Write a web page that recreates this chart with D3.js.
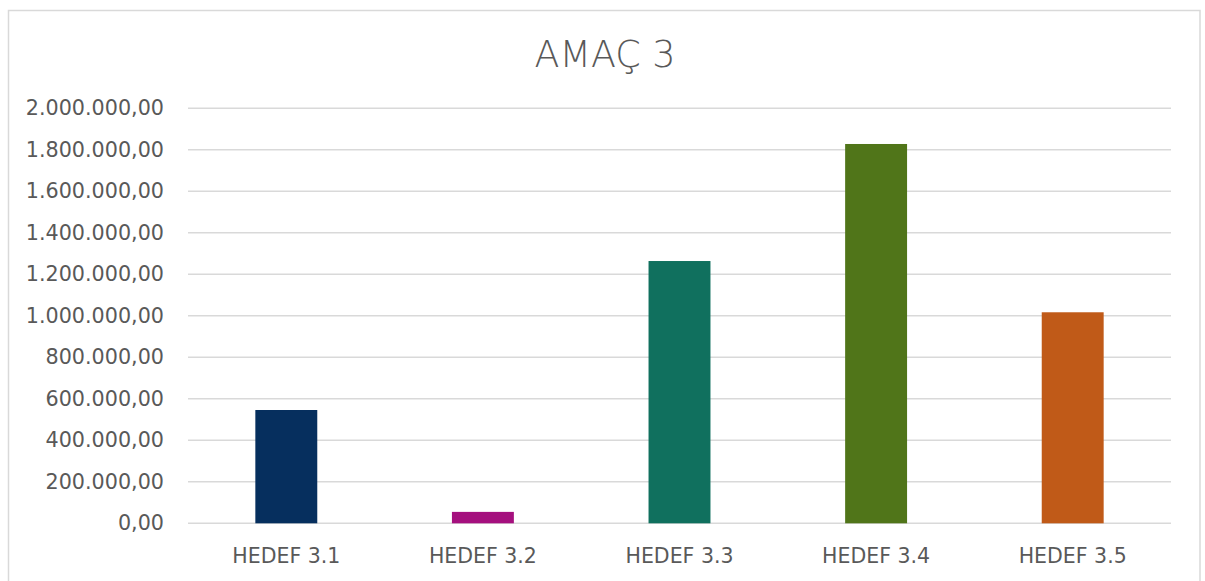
<!DOCTYPE html>
<html>
<head>
<meta charset="utf-8">
<script src="https://cdn.jsdelivr.net/npm/d3@7"></script>
<style>
  html, body { margin: 0; padding: 0; background: #ffffff; }
  svg { display: block; }
  text { font-family: "DejaVu Sans", sans-serif; fill: #595959; }
</style>
</head>
<body>
<svg id="chart" width="1205" height="581"></svg>
<script>
// ---- data ----
const title = "AMAÇ 3";
const categories = ["HEDEF 3.1", "HEDEF 3.2", "HEDEF 3.3", "HEDEF 3.4", "HEDEF 3.5"];
const values = [546000, 55000, 1264000, 1828000, 1017000];
const colors = ["#062F5E", "#A5107E", "#10705E", "#507519", "#C05A18"];
const yTicks = [0, 200000, 400000, 600000, 800000, 1000000, 1200000, 1400000, 1600000, 1800000, 2000000];

// ---- layout ----
const plot = { left: 188, right: 1171, top: 108.3, bottom: 523.3 };

const svg = d3.select("#chart");

// chart border
svg.append("rect")
  .attr("x", 8.5).attr("y", 10.5)
  .attr("width", 1191.5).attr("height", 600)
  .attr("fill", "none")
  .attr("stroke", "#d9d9d9")
  .attr("stroke-width", 1.5);

// title
svg.append("text")
  .attr("x", 605).attr("y", 67)
  .attr("text-anchor", "middle")
  .style("font-size", "36.5px")
  .style("font-weight", "300")
  .text(title);

const locale = d3.formatLocale({ decimal: ",", thousands: ".", grouping: [3], currency: ["", ""] });
const fmt = locale.format(",.2f");

const y = d3.scaleLinear().domain([0, 2000000]).range([plot.bottom, plot.top]);
const x = d3.scaleBand().domain(categories)
  .range([plot.left, plot.right])
  .paddingInner(0.685).paddingOuter(0.3425);

// gridlines
svg.append("g").selectAll("line")
  .data(yTicks)
  .join("line")
  .attr("x1", plot.left).attr("x2", plot.right)
  .attr("y1", d => y(d)).attr("y2", d => y(d))
  .attr("stroke", "#d9d9d9")
  .attr("stroke-width", 1.5);

// y axis labels
const yAxis = d3.axisLeft(y).tickValues(yTicks).tickFormat(fmt).tickSize(0).tickPadding(24);
const gy = svg.append("g").attr("transform", `translate(${plot.left},0)`).call(yAxis);
gy.select(".domain").remove();
gy.selectAll("text")
  .style("font-size", "20.7px")
  .style("font-family", "DejaVu Sans, sans-serif")
  .attr("fill", "#595959");

// bars
svg.append("g").selectAll("rect")
  .data(categories.map((c, i) => ({ c, v: values[i], col: colors[i] })))
  .join("rect")
  .attr("x", d => x(d.c))
  .attr("width", x.bandwidth())
  .attr("y", d => y(d.v))
  .attr("height", d => y(0) - y(d.v))
  .attr("fill", d => d.col);

// x axis labels
const xAxis = d3.axisBottom(x).tickSize(0).tickPadding(0);
const gx = svg.append("g").attr("transform", `translate(0,${plot.bottom})`).call(xAxis);
gx.select(".domain").remove();
gx.selectAll("text")
  .attr("dy", null)
  .attr("y", 39.5)
  .style("font-size", "20.5px")
  .style("font-family", "DejaVu Sans, sans-serif")
  .attr("fill", "#595959");
</script>
</body>
</html>
